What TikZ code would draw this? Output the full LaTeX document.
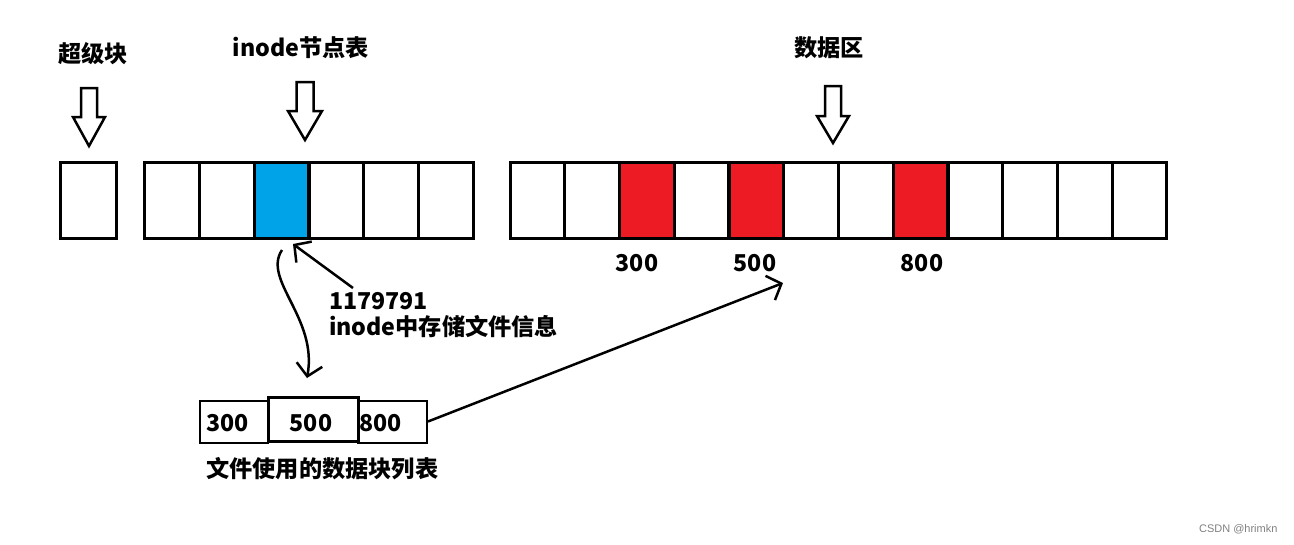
\documentclass[tikz,border=0pt]{standalone}
\usepackage{fontspec}
\setmainfont{Noto Sans CJK SC}
\newfontfamily\wmfont{Liberation Sans}
\usetikzlibrary{arrows.meta}
\definecolor{inodeblue}{HTML}{00A2E8}
\definecolor{datared}{HTML}{ED1C24}
\tikzset{
  cell/.style={draw, line width=3pt, minimum width=54.7pt, minimum height=76pt, inner sep=0pt},
  inodeblock/.style={cell, fill=inodeblue},
  usedblock/.style={cell, fill=datared},
  listcell/.style={draw, line width=2pt, minimum height=42pt, inner sep=0pt},
  lbl/.style={font=\fontsize{23.2}{27}\selectfont\bfseries, inner sep=0pt},
  hollowarrow/.style={draw, line width=2.5pt, line join=miter},
  hand/.style={line width=2.5pt, -{Straight Barb[length=12pt,width=26pt]}},
}
\begin{document}
\begin{tikzpicture}[x=1pt,y=-1pt]
\useasboundingbox (0,0) rectangle (1294,544);
% titles
\node[lbl] (tsuper) at (93,54) {超级块};
\node[lbl] (tinode) at (301,48) {inode节点表};
\node[lbl] (tdata) at (829,48) {数据区};
% hollow arrows
\coordinate (asuper) at (89,146);
\coordinate (ainode) at (305,140);
\coordinate (adata) at (833,143);
\draw[hollowarrow] (asuper) -- ++(-16,-29) -- ++(8,0) -- ++(0,-29) -- ++(16,0) -- ++(0,29) -- ++(8,0) -- cycle;
\draw[hollowarrow] (ainode) -- ++(-17,-29) -- ++(8.5,0) -- ++(0,-29) -- ++(17,0) -- ++(0,29) -- ++(8.5,0) -- cycle;
\draw[hollowarrow] (adata) -- ++(-16,-27) -- ++(8,0) -- ++(0,-30) -- ++(16,0) -- ++(0,30) -- ++(8,0) -- cycle;
% super block
\node[cell, minimum width=56pt] (super) at (88,200) {};
% inode table
\node[cell] (i1) at (172.3,200) {};
\node[cell] (i2) at (227.0,200) {};
\node[inodeblock] (i3) at (281.7,200) {};
\node[cell] (i4) at (336.3,200) {};
\node[cell] (i5) at (391.0,200) {};
\node[cell] (i6) at (445.7,200) {};
% data area
\node[cell] (d1) at (537.4,200) {};
\node[cell] (d2) at (592.1,200) {};
\node[usedblock] (d3) at (646.9,200) {};
\node[cell] (d4) at (701.6,200) {};
\node[usedblock] (d5) at (756.4,200) {};
\node[cell] (d6) at (811.1,200) {};
\node[cell] (d7) at (865.9,200) {};
\node[usedblock] (d8) at (920.6,200) {};
\node[cell] (d9) at (975.4,200) {};
\node[cell] (d10) at (1030.1,200) {};
\node[cell] (d11) at (1084.9,200) {};
\node[cell] (d12) at (1139.6,200) {};
\node[lbl] (n300) at (637,263) {300};
\node[lbl] (n500) at (755,263) {500};
\node[lbl] (n800) at (922,263) {800};
% inode info
\node[lbl, anchor=west] (inum) at (329,301) {1179791};
\node[lbl, anchor=west] (info) at (329,327) {inode中存储文件信息};
\coordinate (infotail) at (353,288);
\coordinate (bluetip) at (293,244);
\draw[hand] (infotail) -- (bluetip);
% block list of the file
\node[listcell, minimum width=68pt] (lista) at (234,421.5) {};
\node[listcell, minimum width=69pt] (listc) at (392.5,421.5) {};
\node[listcell, line width=3pt, minimum width=90pt, minimum height=44pt] (listb) at (313,419) {};
\node[lbl, anchor=west] (l300) at (206,423) {300};
\node[lbl] (l500) at (311,423) {500};
\node[lbl, anchor=west] (l800) at (359,423) {800};
\node[lbl, anchor=west] (tlist) at (206,469) {文件使用的数据块列表};
\coordinate (curvetop) at (282,250);
\coordinate (curvebot) at (307,378);
\draw[hand] (curvetop) .. controls (262,280) and (318,318) .. (curvebot);
\coordinate (datatip) at (783,283);
\draw[hand] (listc.east) -- (datatip);
% watermark
\node[font=\wmfont\fontsize{11}{13}\selectfont, text=gray, anchor=east] (wm) at (1281,529) {CSDN @hrimkn};
\end{tikzpicture}
\end{document}
